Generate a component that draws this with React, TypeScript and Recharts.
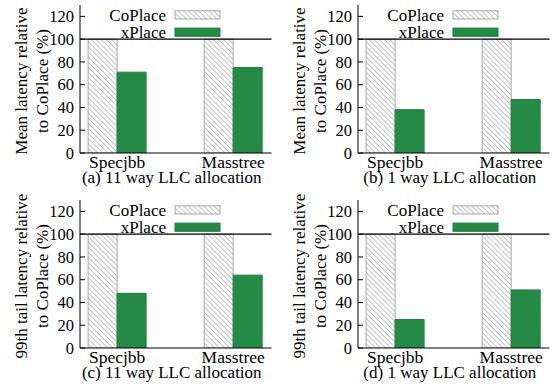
import React from 'react';
import { BarChart, Bar, XAxis, YAxis, ReferenceLine, Legend } from 'recharts';

const categories = ['Specjbb', 'Masstree'];
const categoryPositions = [0, 1];
const coplaceValues = [100, 100];
const meanXplace11Way = [71, 75];
const meanXplace1Way = [38, 47];
const tailXplace11Way = [48, 64];
const tailXplace1Way = [25, 51];
const yTicks = [0, 20, 40, 60, 80, 100, 120];
const seriesNames = ['CoPlace', 'xPlace'];
const captions = [
  '(a) 11 way LLC allocation',
  '(b) 1 way LLC allocation',
  '(c) 11 way LLC allocation',
  '(d) 1 way LLC allocation',
];
const yLabelMean = ['Mean latency relative', 'to CoPlace (%)'];
const yLabelTail = ['99th tail latency relative', 'to CoPlace (%)'];

const FONT = '"Liberation Serif", "Times New Roman", serif';
const GREEN = '#248a46';
const GREEN_STROKE = '#1f7c3e';
const GRAY_STROKE = '#a8a8a8';

const txt = (size: number) => ({ fontFamily: FONT, fontSize: size });

const buildRows = (xplace: number[]) =>
  categories.map((name, i) => ({
    name,
    pos: categoryPositions[i],
    coplace: coplaceValues[i],
    xplace: xplace[i],
  }));

const HatchDef = ({ id }: { id: string }) => (
  <defs>
    <pattern id={id} patternUnits="userSpaceOnUse" width={3.6} height={3.6} patternTransform="rotate(-45)">
      <rect x={0} y={0} width={3.6} height={3.6} fill="#ffffff" />
      <line x1={0.5} y1={0} x2={0.5} y2={3.6} stroke="#bcbcbc" strokeWidth={0.9} />
    </pattern>
  </defs>
);

const YTick = (props: any) => {
  const { x, y, payload } = props;
  return (
    <g>
      <line x1={x} x2={x + 5} y1={y} y2={y} stroke="#000" strokeWidth={1} />
      <text x={x - 6} y={y} dy="0.34em" textAnchor="end" style={txt(16.5)} fill="#000">
        {payload.value}
      </text>
    </g>
  );
};

const XTick = (props: any) => {
  const { x, y, payload } = props;
  const idx = categoryPositions.indexOf(payload.value);
  return (
    <text x={x} y={y + 14.7} textAnchor="middle" style={txt(17.5)} fill="#000">
      {categories[idx] ?? ''}
    </text>
  );
};

const makeCaption = (text: string) => (props: any) => {
  const vb = props.viewBox || {};
  return (
    <text x={vb.x + vb.width / 2 - 4} y={vb.y + 30} textAnchor="middle" style={txt(17)} fill="#000">
      {text}
    </text>
  );
};

const makeYLabel = (lines: string[]) => (props: any) => {
  const vb = props.viewBox || {};
  const cy = vb.y + vb.height / 2 + 2;
  const right = vb.x + vb.width;
  const xs = [right - 59, right - 38];
  return (
    <g>
      {lines.map((l, i) => (
        <text
          key={i}
          x={xs[i]}
          y={cy}
          transform={`rotate(-90, ${xs[i]}, ${cy})`}
          textAnchor="middle"
          dominantBaseline="central"
          style={txt(17)}
          fill="#000"
        >
          {l}
        </text>
      ))}
    </g>
  );
};

const makeLegend = (hatchId: string) => (props: any) => {
  const payload = props.payload || [];
  return (
    <svg width={192} height={40} style={{ display: 'block', overflow: 'visible' }}>
      <HatchDef id={hatchId} />
      {seriesNames.map((n, i) => {
        const entry = payload.find((p: any) => p.value === n);
        const rowY = i === 0 ? 10 : 27.3;
        return (
          <g key={n}>
            <text x={86} y={rowY} dy="0.34em" textAnchor="end" style={txt(17)} fill="#000">
              {entry ? entry.value : n}
            </text>
            <rect
              x={95}
              y={rowY - 4.2}
              width={45}
              height={8.2}
              fill={i === 0 ? `url(#${hatchId})` : GREEN}
              stroke={i === 0 ? GRAY_STROKE : GREEN_STROKE}
              strokeWidth={1}
            />
          </g>
        );
      })}
    </svg>
  );
};

type PanelProps = {
  id: string;
  xplace: number[];
  caption: string;
  yLabel: string[];
  height: number;
  marginTop: number;
  xAxisHeight: number;
};

const Panel = ({ id, xplace, caption, yLabel, height, marginTop, xAxisHeight }: PanelProps) => {
  const data = buildRows(xplace);
  const hatchId = `hatch-${id}`;
  return (
    <BarChart
      width={278}
      height={height}
      data={data}
      margin={{ top: marginTop, right: 6.5, bottom: 0, left: 0 }}
      barGap={0}
      barSize={29}
      style={{ fontFamily: FONT, overflow: 'visible' }}
    >
      <HatchDef id={hatchId} />
      <XAxis
        xAxisId="bottom"
        type="number"
        dataKey="pos"
        domain={[-0.32, 1.33]}
        allowDataOverflow
        ticks={categoryPositions}
        interval={0}
        tick={<XTick />}
        tickLine={false}
        tickSize={0}
        tickMargin={0}
        height={xAxisHeight}
        axisLine={{ stroke: '#000', strokeWidth: 1 }}
        label={makeCaption(caption)}
      />
      <XAxis
        xAxisId="top"
        orientation="top"
        type="number"
        dataKey="pos"
        domain={[-0.32, 1.33]}
        allowDataOverflow
        tick={false}
        tickLine={false}
        height={0}
        axisLine={{ stroke: '#666', strokeWidth: 1 }}
      />
      <YAxis
        yAxisId="left"
        type="number"
        domain={[0, 130]}
        allowDataOverflow
        ticks={yTicks}
        interval={0}
        tick={<YTick />}
        tickLine={false}
        tickSize={0}
        tickMargin={0}
        width={80}
        axisLine={{ stroke: '#000', strokeWidth: 1 }}
        label={makeYLabel(yLabel)}
      />
      <YAxis
        yAxisId="right"
        orientation="right"
        type="number"
        domain={[0, 130]}
        tick={false}
        tickLine={false}
        width={0}
        axisLine={{ stroke: '#666', strokeWidth: 1 }}
      />
      <Legend
        layout="vertical"
        align="center"
        verticalAlign="middle"
        content={makeLegend(`${hatchId}-lg`)}
        wrapperStyle={{ left: 80, top: marginTop, width: 192, height: 40 }}
      />
      <Bar
        xAxisId="bottom"
        yAxisId="left"
        dataKey="coplace"
        name={seriesNames[0]}
        fill={`url(#${hatchId})`}
        stroke={GRAY_STROKE}
        strokeWidth={1}
        isAnimationActive={false}
      />
      <Bar
        xAxisId="bottom"
        yAxisId="left"
        dataKey="xplace"
        name={seriesNames[1]}
        fill={GREEN}
        stroke={GREEN_STROKE}
        strokeWidth={1}
        isAnimationActive={false}
      />
      <ReferenceLine xAxisId="bottom" yAxisId="left" y={100} stroke="#000" strokeWidth={1.3} />
    </BarChart>
  );
};

export default function App() {
  return (
    <div style={{ position: 'absolute', left: 0, top: 0, width: 556, height: 389, background: '#fff', fontFamily: FONT }}>
      <div style={{ position: 'absolute', left: 0, top: 0 }}>
        <Panel id="a" xplace={meanXplace11Way} caption={captions[0]} yLabel={yLabelMean} height={195} marginTop={5} xAxisHeight={42} />
      </div>
      <div style={{ position: 'absolute', left: 278, top: 0 }}>
        <Panel id="b" xplace={meanXplace1Way} caption={captions[1]} yLabel={yLabelMean} height={195} marginTop={5} xAxisHeight={42} />
      </div>
      <div style={{ position: 'absolute', left: 0, top: 185 }}>
        <Panel id="c" xplace={tailXplace11Way} caption={captions[2]} yLabel={yLabelTail} height={204} marginTop={15} xAxisHeight={41} />
      </div>
      <div style={{ position: 'absolute', left: 278, top: 185 }}>
        <Panel id="d" xplace={tailXplace1Way} caption={captions[3]} yLabel={yLabelTail} height={204} marginTop={15} xAxisHeight={41} />
      </div>
    </div>
  );
}
